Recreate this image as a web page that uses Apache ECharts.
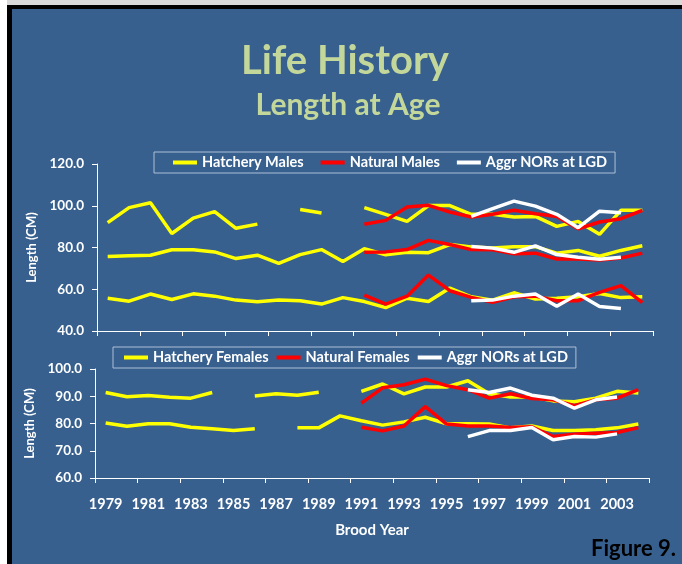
<!DOCTYPE html>
<html>
<head>
<meta charset="utf-8">
<title>Life History - Length at Age</title>
<script src="https://cdn.jsdelivr.net/npm/echarts@6/dist/echarts.min.js"></script>
<style>
  html, body { margin: 0; padding: 0; background: #fff; }
  #chart { width: 682px; height: 564px; }
</style>
</head>
<body>
<div id="chart"></div>
<script>
// brood years 1979..2004
const years = []
for (let y = 1979; y <= 2004; y++) years.push(String(y))

const maleTicks = [40, 60, 80, 100, 120]
const femaleTicks = [60, 70, 80, 90, 100]

// males (top panel), three age groups each
const hatchMaleOld = [91.9, 99.1, 101.4, 86.7, 94.1, 97.2, 89.2, 91.2, null, 98.2, 96.5, null, 99.1, 95.9, 92.5, 100.1, 100.1, 95.9, 95.9, 94.6, 94.9, 90.1, 92.5, 86.3, 97.8, 97.8]
const hatchMaleMid = [75.7, 76.0, 76.3, 78.9, 78.9, 77.9, 74.7, 76.3, 72.4, 76.6, 79.0, 73.3, 79.4, 76.5, 77.7, 77.5, 81.4, 80.2, 79.8, 80.4, 80.4, 77.3, 78.6, 75.8, 78.6, 80.8]
const hatchMaleJack = [55.7, 54.3, 57.7, 55.1, 57.8, 56.7, 54.8, 54.0, 54.9, 54.5, 52.9, 56.0, 54.1, 51.2, 55.7, 54.1, 60.6, 56.4, 54.8, 58.3, 55.3, 55.7, 56.4, 58.0, 56.0, 56.4]

const natMaleOld = [null, null, null, null, null, null, null, null, null, null, null, null, 91.1, 93.0, 99.4, 100.2, 97.0, 94.6, 95.9, 97.8, 96.2, 94.9, 89.0, 92.2, 93.8, 97.8]
const natMaleMid = [null, null, null, null, null, null, null, null, null, null, null, null, 77.7, 77.9, 79.0, 83.4, 81.4, 79.0, 78.9, 77.0, 77.3, 74.5, 74.5, 74.0, 75.0, 77.3]
const natMaleJack = [null, null, null, null, null, null, null, null, null, null, null, null, 57.2, 52.9, 56.7, 66.8, 59.3, 56.1, 53.8, 56.4, 56.7, 54.5, 54.5, 58.5, 61.7, 53.6]

const norMaleOld = [null, null, null, null, null, null, null, null, null, null, null, null, null, null, null, null, null, 94.9, 98.6, 102.2, 99.8, 95.9, 89.5, 97.4, 96.6, null]
const norMaleMid = [null, null, null, null, null, null, null, null, null, null, null, null, null, null, null, null, null, 80.5, 79.7, 77.7, 80.8, 76.6, 75.3, 74.4, 75.3, null]
const norMaleJack = [null, null, null, null, null, null, null, null, null, null, null, null, null, null, null, null, null, 54.5, 54.8, 56.7, 57.7, 51.9, 57.7, 51.7, 50.8, null]

// females (bottom panel), two age groups each
const hatchFemaleOld = [91.4, 89.8, 90.3, 89.6, 89.3, 91.4, null, 90.1, 90.9, 90.4, 91.5, null, 91.8, 94.5, 90.9, 93.4, 93.4, 95.7, 90.9, 89.7, 89.7, 88.3, 88.0, 89.3, 91.8, 91.2]
const hatchFemaleYoung = [80.2, 79.0, 79.9, 79.9, 78.6, 78.1, 77.4, 78.1, null, 78.4, 78.4, 82.8, 81.0, 79.4, 80.6, 82.3, 79.9, 79.9, 79.8, 78.4, 79.1, 77.4, 77.4, 77.7, 78.4, 79.8]

const natFemaleOld = [null, null, null, null, null, null, null, null, null, null, null, null, 87.5, 93.1, 94.2, 96.3, 93.9, 92.4, 89.3, 90.9, 89.2, 88.7, 86.5, 88.7, 89.3, 92.4]
const natFemaleYoung = [null, null, null, null, null, null, null, null, null, null, null, null, 78.6, 77.3, 79.1, 86.2, 79.8, 79.1, 79.1, 78.5, 78.8, 75.2, 76.1, 76.4, 76.7, 78.5]

const norFemaleOld = [null, null, null, null, null, null, null, null, null, null, null, null, null, null, null, null, null, 92.4, 91.4, 93.0, 90.4, 89.3, 85.6, 88.7, 89.7, null]
const norFemaleYoung = [null, null, null, null, null, null, null, null, null, null, null, null, null, null, null, null, null, 75.2, 77.4, 77.4, 78.5, 74.0, 75.2, 75.0, 76.2, null]

const BG = '#37608F'
const FONT = 'Lato'
const COLORS = { hatch: '#FFFF00', nat: '#FF0000', nor: '#FFFFFF' }

const chart = echarts.init(document.getElementById('chart'))

const line = (name, data, color, panel) => ({
  name,
  type: 'line',
  xAxisIndex: panel,
  yAxisIndex: panel,
  data,
  symbol: 'none',
  color,
  lineStyle: { color, width: 3.5 },
  emphasis: { disabled: true }
})

const yAxisFor = (panel, ticks) => ({
  gridIndex: panel,
  type: 'value',
  min: ticks[0],
  max: ticks[ticks.length - 1],
  interval: ticks[1] - ticks[0],
  name: 'Length (CM)',
  nameLocation: 'middle',
  nameGap: 48,
  nameTextStyle: { color: '#fff', fontFamily: FONT, fontWeight: 'bold', fontSize: 13 },
  axisLine: { show: true, lineStyle: { color: '#fff', width: 1 } },
  axisTick: { show: true, length: 5, lineStyle: { color: '#fff' } },
  splitLine: { show: false },
  axisLabel: {
    color: '#fff', fontFamily: FONT, fontWeight: 'bold', fontSize: 13.5, margin: 13,
    formatter: v => v.toFixed(1)
  }
})

const legendFor = (top, left, names, gap, padLeft) => ({
  top, left,
  data: names,
  icon: 'rect',
  itemWidth: 24,
  itemHeight: 4,
  itemGap: gap,
  padding: [3, 8, 3, padLeft],
  borderColor: '#AEBFD6',
  borderWidth: 1,
  selectedMode: false,
  textStyle: { color: '#fff', fontFamily: FONT, fontWeight: 'bold', fontSize: 14.5 }
})

const option = {
  backgroundColor: BG,
  animation: false,
  graphic: [
    { type: 'rect', shape: { x: 0, y: 0, width: 682, height: 5 }, style: { fill: '#D9D9D9' } },
    { type: 'rect', shape: { x: 0, y: 0, width: 7, height: 564 }, style: { fill: '#fff' } },
    { type: 'rect', shape: { x: 7, y: 5, width: 675, height: 4 }, style: { fill: '#000' } },
    { type: 'rect', shape: { x: 7, y: 5, width: 5, height: 559 }, style: { fill: '#000' } },
    { type: 'text', x: 345, y: 61, style: { text: 'Life History', fill: '#C4D79B', font: 'bold 40px Lato', textAlign: 'center', textVerticalAlign: 'middle' } },
    { type: 'text', x: 348, y: 105, style: { text: 'Length at Age', fill: '#C4D79B', font: 'bold 30px Lato', textAlign: 'center', textVerticalAlign: 'middle' } },
    { type: 'text', x: 676, y: 549, style: { text: 'Figure 9.', fill: '#000', font: 'bold 22px Lato', textAlign: 'right', textVerticalAlign: 'middle' } }
  ],
  legend: [
    legendFor(152, 154, ['Hatchery Males', 'Natural Males', 'Aggr NORs at LGD'], 17, 19),
    legendFor(347, 113, ['Hatchery Females', 'Natural Females', 'Aggr NORs at LGD'], 8, 11)
  ],
  grid: [
    { left: 97, right: 29, top: 164, height: 167 },
    { left: 95, right: 33, top: 369, height: 109 }
  ],
  xAxis: [
    {
      gridIndex: 0, type: 'category', data: years,
      axisLine: { lineStyle: { color: '#fff', width: 1 } },
      axisTick: { show: true, length: 5, lineStyle: { color: '#fff' } },
      axisLabel: { show: false }
    },
    {
      gridIndex: 1, type: 'category', data: years,
      name: 'Brood Year', nameLocation: 'middle', nameGap: 45,
      nameTextStyle: { color: '#fff', fontFamily: FONT, fontWeight: 'bold', fontSize: 15 },
      axisLine: { lineStyle: { color: '#fff', width: 1 } },
      axisTick: { show: true, length: 5, lineStyle: { color: '#fff' } },
      axisLabel: { interval: 1, color: '#fff', fontFamily: FONT, fontWeight: 'bold', fontSize: 14.5, margin: 19 }
    }
  ],
  yAxis: [yAxisFor(0, maleTicks), yAxisFor(1, femaleTicks)],
  series: [
    line('Hatchery Males', hatchMaleOld, COLORS.hatch, 0),
    line('Hatchery Males', hatchMaleMid, COLORS.hatch, 0),
    line('Hatchery Males', hatchMaleJack, COLORS.hatch, 0),
    line('Natural Males', natMaleOld, COLORS.nat, 0),
    line('Natural Males', natMaleMid, COLORS.nat, 0),
    line('Natural Males', natMaleJack, COLORS.nat, 0),
    line('Aggr NORs at LGD', norMaleOld, COLORS.nor, 0),
    line('Aggr NORs at LGD', norMaleMid, COLORS.nor, 0),
    line('Aggr NORs at LGD', norMaleJack, COLORS.nor, 0),
    line('Hatchery Females', hatchFemaleOld, COLORS.hatch, 1),
    line('Hatchery Females', hatchFemaleYoung, COLORS.hatch, 1),
    line('Natural Females', natFemaleOld, COLORS.nat, 1),
    line('Natural Females', natFemaleYoung, COLORS.nat, 1),
    line('Aggr NORs at LGD', norFemaleOld, COLORS.nor, 1),
    line('Aggr NORs at LGD', norFemaleYoung, COLORS.nor, 1)
  ]
}

chart.setOption(option)
</script>
</body>
</html>
